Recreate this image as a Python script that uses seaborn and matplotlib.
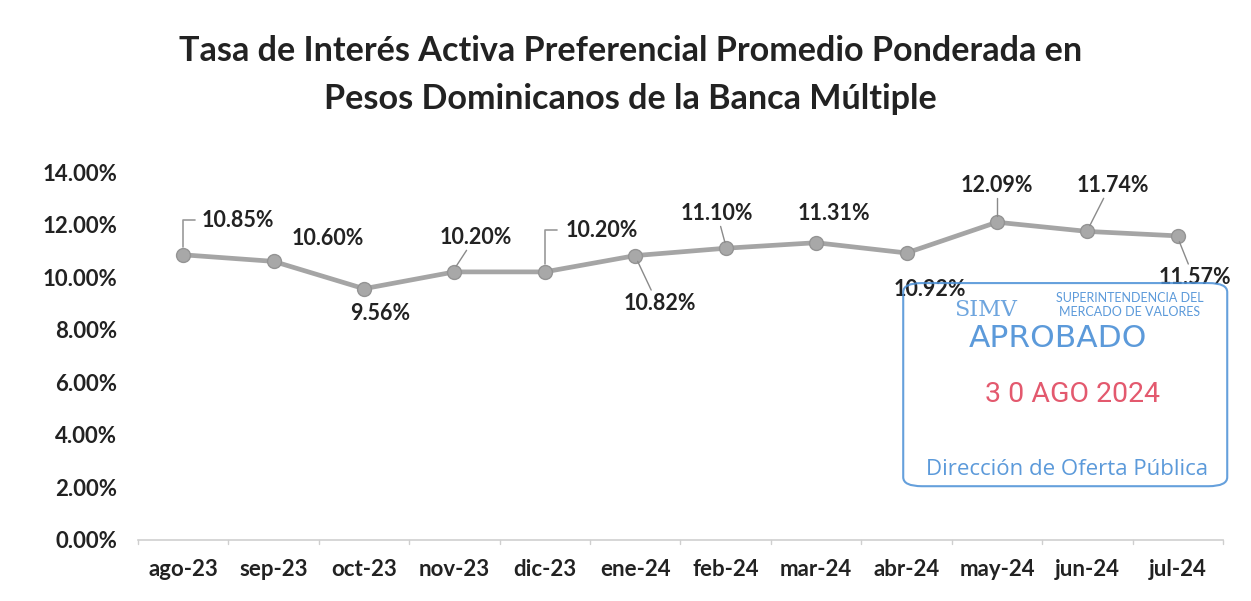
import matplotlib
matplotlib.use("Agg")
import matplotlib.pyplot as plt
import seaborn as sns
import pandas as pd
from matplotlib.patches import FancyBboxPatch
from matplotlib.ticker import FuncFormatter, MultipleLocator

# ---- data ----
months = ["ago-23", "sep-23", "oct-23", "nov-23", "dic-23", "ene-24",
          "feb-24", "mar-24", "abr-24", "may-24", "jun-24", "jul-24"]
rates = [10.85, 10.60, 9.56, 10.20, 10.20, 10.82,
         11.10, 11.31, 10.92, 12.09, 11.74, 11.57]
title_lines = ["Tasa de Interés Activa Preferencial Promedio Ponderada en",
               "Pesos Dominicanos de la Banca Múltiple"]

df = pd.DataFrame({"mes": months, "tasa": rates, "idx": range(len(months))})

# ---- layout (label offsets in data units: dx, dy) ----
label_off = [(0.61, 1.32), (0.6, 0.88), (0.18, -0.93), (0.24, 1.32),
             (0.63, 1.59), (0.27, -1.81), (-0.1, 1.33), (0.2, 1.12),
             (0.26, -1.38), (0.0, 1.41), (0.28, 1.76), (0.19, -1.57)]
leaders = {0: "bracket", 4: "bracket", 3: "line", 5: "line", 6: "line",
           9: "line", 10: "line", 11: "line"}

sns.set_style("white")
plt.rcParams["font.family"] = ["Lato", "DejaVu Sans"]

fig = plt.figure(figsize=(12.51, 6.01), dpi=100)
fig.patch.set_facecolor("white")
ax = fig.add_axes([0.1103, 0.1015, 0.8673, 0.6123])

line_col = "#a5a5a5"
sns.lineplot(data=df, x="idx", y="tasa", ax=ax, color=line_col, linewidth=3.4,
             marker="o", markersize=10, markerfacecolor="#a8a8a8",
             markeredgecolor="#949494", markeredgewidth=1)

ax.set_xlim(-0.5, len(months) - 0.5)
ax.set_ylim(0, 14)
ax.yaxis.set_major_locator(MultipleLocator(2))
ax.yaxis.set_major_formatter(FuncFormatter(lambda v, p: f"{v:.2f}%"))
ax.set_xticks(range(len(months)))
ax.set_xticklabels(months)
ax.set_xlabel("")
ax.set_ylabel("")
for s in ["top", "right", "left"]:
    ax.spines[s].set_visible(False)
ax.spines["bottom"].set_color("#cfcfcf")
ax.spines["bottom"].set_linewidth(1.2)
ax.tick_params(axis="y", labelsize=16, colors="#222222", length=0, pad=15)
ax.tick_params(axis="x", labelsize=16, colors="#222222", length=0, pad=14)
for t in ax.get_xticklabels() + ax.get_yticklabels():
    t.set_fontweight("bold")
# category boundary ticks
for b in range(len(months) + 1):
    ax.plot([b - 0.5, b - 0.5], [0, -0.15], color="#cfcfcf", lw=1,
            clip_on=False)

# data labels
lead_col = "#8a8a8a"
for i, (v, (dx, dy)) in enumerate(zip(rates, label_off)):
    lx, ly = i + dx, v + dy
    ax.text(lx, ly, f"{v:.2f}%", ha="center", va="center", fontsize=15.5,
            fontweight="bold", color="#222222")
    kind = leaders.get(i)
    if kind == "bracket":
        ax.plot([i, i, i + 0.13], [v + 0.3, ly, ly], color="#9a9a9a", lw=1.2)
    elif kind == "line":
        sgn = 1 if dy > 0 else -1
        y0 = v + 0.22 * sgn
        y1 = ly - 0.5 * sgn
        x1 = i + (lx - i) * (y1 - v) / (ly - v) * 0.9
        ax.plot([i + (x1 - i) * 0.15, x1], [y0, y1], color=lead_col, lw=1)

# title
fig.text(0.504, 0.915, title_lines[0], ha="center", va="center",
         fontsize=24.6, fontweight="bold", color="#222222")
fig.text(0.504, 0.835, title_lines[1], ha="center", va="center",
         fontsize=24.6, fontweight="bold", color="#222222")

# stamp
blue = "#4a8fd6"
red = "#e0475e"
stamp = FancyBboxPatch((0.722, 0.191), 0.259, 0.338,
                       boxstyle="round,pad=0,rounding_size=0.015",
                       transform=fig.transFigure, fill=False,
                       edgecolor=blue, linewidth=1.5, alpha=0.85)
fig.patches.append(stamp)
fig.text(0.788, 0.484, "SIMV", ha="center", va="center", fontsize=16,
         family="DejaVu Serif", color=blue, alpha=0.8)
fig.text(0.903, 0.504, "SUPERINTENDENCIA DEL", ha="center", va="center",
         fontsize=9, color=blue, alpha=0.9)
fig.text(0.903, 0.481, "MERCADO DE VALORES", ha="center", va="center",
         fontsize=9, color=blue, alpha=0.9)
fig.text(0.846, 0.437, "APROBADO", ha="center", va="center", fontsize=22.5,
         family="DejaVu Sans", color=blue, alpha=0.9)
fig.text(0.857, 0.343, "3 0 AGO 2024", ha="center", va="center",
         fontsize=20.5, family="Roboto", color=red, alpha=0.9)
fig.text(0.853, 0.218, "Dirección de Oferta Pública", ha="center",
         va="center", fontsize=16, family="Open Sans", color=blue, alpha=0.9)

fig.savefig("out.png", dpi=100, facecolor="white")
